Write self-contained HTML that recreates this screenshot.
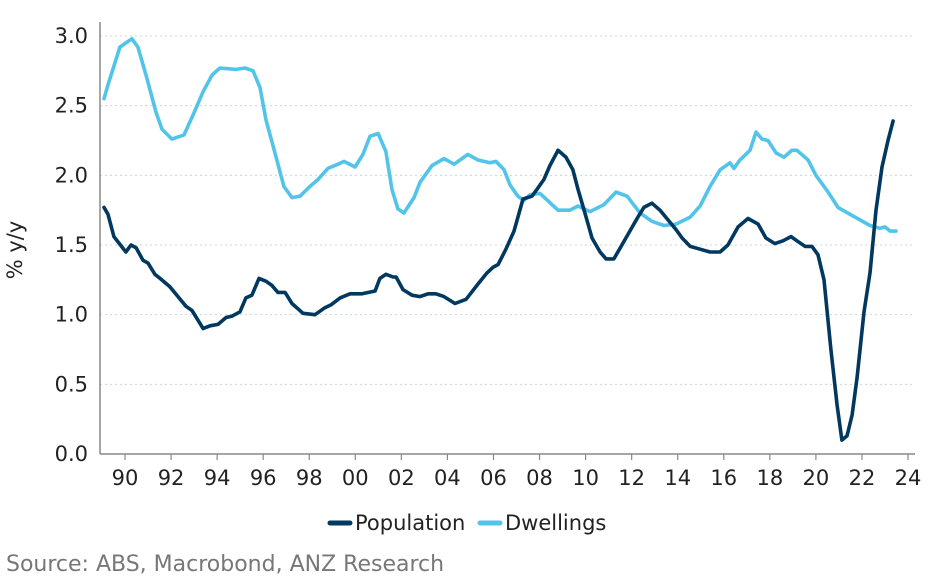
<!DOCTYPE html>
<html><head><meta charset="utf-8"><style>
html,body{margin:0;padding:0;background:#fff;}
svg{display:block;font-family:"DejaVu Sans","Liberation Sans",sans-serif;}
</style></head><body>
<svg id="chart" width="940" height="581" viewBox="0 0 940 581">
<g id="grid"></g>
<g id="axes"></g>
<g id="series"></g>
<text x="22" y="250" transform="rotate(-90 22 250)" text-anchor="middle" font-size="21" fill="#222">% y/y</text>
<g>
<g>
<line x1="330" y1="523" x2="350" y2="523" stroke="#00385f" stroke-width="5" stroke-linecap="round"/>
<text x="355" y="530" font-size="21" fill="#222">Population</text></g>
<g>
<line x1="480" y1="523" x2="500" y2="523" stroke="#52c4ea" stroke-width="5" stroke-linecap="round"/>
<text x="505" y="530" font-size="21" fill="#222">Dwellings</text></g>
</g>
<text x="6" y="571" font-size="22" fill="#777">Source: ABS, Macrobond, ANZ Research</text>
</svg>
<script>
const popYears=[1989.09,1989.26,1989.52,1990.04,1990.26,1990.48,1990.78,1991.00,1991.30,1991.52,1991.95,1992.30,1992.65,1992.91,1993.17,1993.39,1993.69,1994.04,1994.39,1994.65,1994.99,1995.25,1995.51,1995.82,1996.12,1996.38,1996.64,1996.95,1997.25,1997.73,1998.25,1998.68,1998.94,1999.34,1999.77,2000.29,2000.86,2001.07,2001.33,2001.64,2001.77,2002.07,2002.46,2002.81,2003.16,2003.50,2003.85,2004.33,2004.81,2005.33,2005.72,2005.98,2006.20,2006.54,2006.89,2007.28,2007.67,2007.89,2008.19,2008.45,2008.80,2009.15,2009.45,2009.67,2010.02,2010.28,2010.63,2010.89,2011.23,2011.75,2012.27,2012.53,2012.88,2013.23,2013.58,2013.93,2014.19,2014.54,2014.97,2015.40,2015.84,2016.18,2016.62,2017.05,2017.49,2017.83,2018.22,2018.57,2018.92,2019.26,2019.53,2019.83,2020.09,2020.35,2020.65,2020.92,2021.13,2021.35,2021.57,2021.79,2022.09,2022.35,2022.61,2022.87,2023.13,2023.35];
const popValues=[1.77,1.72,1.56,1.45,1.50,1.48,1.39,1.37,1.29,1.26,1.20,1.13,1.06,1.03,0.96,0.90,0.92,0.93,0.98,0.99,1.02,1.12,1.14,1.26,1.24,1.21,1.16,1.16,1.08,1.01,1.00,1.05,1.07,1.12,1.15,1.15,1.17,1.26,1.29,1.27,1.27,1.18,1.14,1.13,1.15,1.15,1.13,1.08,1.11,1.22,1.30,1.34,1.36,1.47,1.60,1.83,1.85,1.90,1.97,2.07,2.18,2.13,2.04,1.90,1.70,1.55,1.45,1.40,1.40,1.55,1.70,1.77,1.80,1.75,1.68,1.61,1.55,1.49,1.47,1.45,1.45,1.50,1.63,1.69,1.65,1.55,1.51,1.53,1.56,1.52,1.49,1.49,1.43,1.25,0.75,0.35,0.10,0.13,0.28,0.55,1.02,1.30,1.75,2.06,2.25,2.39];
const dwlYears=[1989.09,1989.26,1989.78,1990.30,1990.56,1990.91,1991.35,1991.61,1992.04,1992.56,1993.00,1993.39,1993.78,1994.12,1994.82,1995.21,1995.56,1995.86,1996.12,1996.56,1996.90,1997.25,1997.60,1998.03,1998.38,1998.81,1999.25,1999.51,1999.99,2000.33,2000.64,2000.99,2001.33,2001.59,2001.85,2002.11,2002.55,2002.81,2003.33,2003.85,2004.29,2004.89,2005.33,2005.85,2006.11,2006.46,2006.72,2007.06,2007.32,2007.58,2008.02,2008.54,2008.80,2009.32,2009.67,2010.19,2010.80,2011.32,2011.80,2012.36,2012.88,2013.40,2013.93,2014.54,2014.97,2015.40,2015.84,2016.27,2016.44,2016.70,2017.14,2017.40,2017.66,2017.92,2018.27,2018.61,2018.96,2019.18,2019.66,2020.00,2020.53,2020.96,2021.48,2021.92,2022.35,2022.78,2023.00,2023.22,2023.48];
const dwlValues=[2.55,2.65,2.92,2.98,2.92,2.72,2.45,2.33,2.26,2.29,2.45,2.60,2.72,2.77,2.76,2.77,2.75,2.63,2.40,2.13,1.92,1.84,1.85,1.92,1.97,2.05,2.08,2.10,2.06,2.15,2.28,2.30,2.17,1.90,1.76,1.73,1.84,1.95,2.07,2.12,2.08,2.15,2.11,2.09,2.10,2.04,1.93,1.85,1.82,1.86,1.87,1.79,1.75,1.75,1.78,1.74,1.79,1.88,1.85,1.73,1.67,1.64,1.65,1.70,1.78,1.92,2.04,2.09,2.05,2.11,2.18,2.31,2.26,2.25,2.16,2.13,2.18,2.18,2.11,2.00,1.88,1.77,1.72,1.68,1.64,1.62,1.63,1.60,1.60];
const yTicks=[0,0.5,1,1.5,2,2.5,3];
const yTickLabels=["0.0","0.5","1.0","1.5","2.0","2.5","3.0"];
const xTicks=[1990,1992,1994,1996,1998,2000,2002,2004,2006,2008,2010,2012,2014,2016,2018,2020,2022,2024];
const xTickLabels=["90","92","94","96","98","00","02","04","06","08","10","12","14","16","18","20","22","24"];

const NS="http://www.w3.org/2000/svg";
const L=100,R=915,T=22,B=454;
const xs=y=>125+(y-1990)*23.03;
const ys=v=>B-v*(B-36)/3;
function mk(tag,attrs,parent){const e=document.createElementNS(NS,tag);for(const k in attrs)e.setAttribute(k,attrs[k]);parent.appendChild(e);return e;}
const grid=document.getElementById('grid'),axes=document.getElementById('axes'),series=document.getElementById('series');
yTicks.forEach((v,i)=>{
  if(v>0){const g=mk('line',{x1:L,x2:R,y1:ys(v),y2:ys(v),stroke:'#c8d4dc','stroke-width':1,'stroke-dasharray':'2,3'},grid);
  
  }
  const t=mk('text',{x:88,y:ys(v)+7,'text-anchor':'end','font-size':21,fill:'#222'},axes);
  t.textContent=yTickLabels[i];
  
  
});
const ya=mk('line',{x1:L,x2:L,y1:T,y2:B,stroke:'#888','stroke-width':1.5},axes);


const xa=mk('line',{x1:L,x2:R,y1:B,y2:B,stroke:'#888','stroke-width':1.5},axes);


xTicks.forEach((yr,i)=>{
  const tk=mk('line',{x1:xs(yr),x2:xs(yr),y1:B,y2:B+6,stroke:'#888','stroke-width':1.2},axes);
  
  
  const t=mk('text',{x:xs(yr),y:B+31,'text-anchor':'middle','font-size':21,fill:'#222'},axes);
  t.textContent=xTickLabels[i];
  
  
});
function line(years,vals,color,name){
  const d=years.map((y,i)=>(i?'L':'M')+xs(y).toFixed(1)+','+ys(vals[i]).toFixed(1)).join('');
  const p=mk('path',{d:d,fill:'none',stroke:color,'stroke-width':3.6,'stroke-linejoin':'round','stroke-linecap':'round'},series);
  
  
}
line(dwlYears,dwlValues,'#52c4ea','dwellings-line');
line(popYears,popValues,'#00385f','population-line');
</script>
</body></html>
